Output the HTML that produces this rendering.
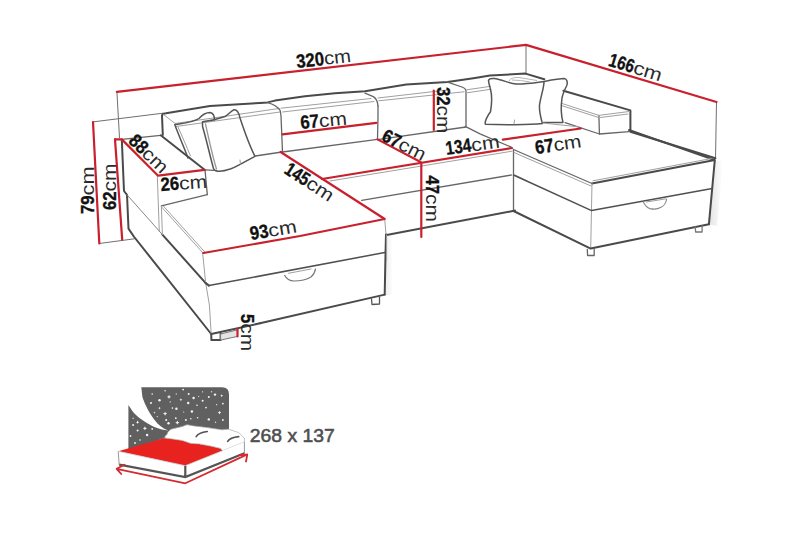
<!DOCTYPE html>
<html><head><meta charset="utf-8">
<style>
html,body{margin:0;padding:0;background:#fff;width:800px;height:533px;overflow:hidden}
svg{display:block}
text{font-family:"Liberation Sans",sans-serif}
.d{fill:none;stroke:#4a4a4a;stroke-width:2;stroke-linejoin:round;stroke-linecap:round}
.m{fill:none;stroke:#666;stroke-width:1.3;stroke-linejoin:round;stroke-linecap:round}
.l{fill:none;stroke:#a0a0a0;stroke-width:1;stroke-linecap:round;stroke-linejoin:round}
.r{fill:none;stroke:#c8202c;stroke-width:2.2;stroke-linecap:round;stroke-linejoin:round}
.g{fill:none;stroke:#707070;stroke-width:1;}
.t{font-size:19px;fill:#111}
.t .b{font-weight:bold;stroke:#111;stroke-width:0.35}
.t .c{fill:#2a2a2a;font-size:18.5px}
</style></head>
<body>
<svg width="800" height="533" viewBox="0 0 800 533">
<defs>
<linearGradient id="sh" x1="0" y1="0" x2="1" y2="0"><stop offset="0" stop-color="#000" stop-opacity="0.16"/><stop offset="1" stop-color="#000" stop-opacity="0"/></linearGradient>
</defs>
<rect x="386" y="234" width="7" height="61" fill="url(#sh)" opacity="0.4"/>
<path d="M714.8,160.5 L723,161 L717,226 L708.9,224.3 Z" fill="url(#sh)" opacity="0.7"/>
<!-- extension lines -->
<g class="g">
<path d="M116.9,91.8 L119.5,138"/>
<path d="M92,122 L163,113.2"/>
<path d="M99.3,243.5 L134.4,238.8"/>
<path d="M526,44.9 L526,73.6"/>
<path d="M716.5,102 L715.5,158.5"/>
</g>

<!-- backrest top contour -->
<path class="d" d="M162.8,135 L162,115.5 Q162.5,113.5 166,113.3 L210,106 L260,103 L267.5,102.4 L275,100.6 L305,96.2 L335,93.3 L365,91.3 L406.3,84.5 L447.5,81.9 L475,78 L490,75.6 L525.5,73.6 L544.3,79.3"/>
<!-- left backrest inner -->
<path class="l" d="M163.5,114.5 L175,123.5 L279,108.5"/>
<path class="l" d="M176,126.5 L280,112"/>
<!-- center-left cushion -->
<path class="m" d="M267.5,102.6 Q276.5,105 280.2,110.5 L281,116 L282.5,152"/>
<path class="l" d="M281,108.2 L371,98.5 M282.5,112 L374,101.5"/>
<path class="m" d="M378,106 L378,116 L377.5,139.4"/>
<path class="m" d="M282.5,152 L377.5,139.4"/>
<!-- center-right cushion -->
<path class="m" d="M365,93.2 L373.3,96.6 Q377.4,99 378,106"/>
<path class="l" d="M378,98 L449,89.8 M378.8,100.8 L464,91.8"/>
<path class="m" d="M447.5,82.2 L462,87 Q466,88.5 466,91 L466,127 L377.5,139.6"/>
<path class="l" d="M466.8,89.8 L490,86.4 M467,92.8 L490,89.4"/>

<!-- pillows left -->
<path class="m" fill="#fff" d="M188,158 C184,147 179,136 174.8,124.8 C185,123 195,121.5 199,118.5 C203,114 207,112.5 210,112.5 C213,113 214.5,116 214.5,120 L218,160 Z" style="stroke:none"/>
<path class="d" style="stroke-width:1.5;stroke:#555" d="M188,158 C184,147 179,136 174.8,124.8 C185,123 195,121.5 199,118.5 C203,114 207,112.5 210,112.5 C213,113 214.5,116 214.5,120"/>
<path class="l" d="M190.5,156 C186.5,146 182,136 178,127"/>
<path class="d" style="stroke-width:1.5;stroke:#555" fill="#fff" d="M202.5,121.8 C210,121 218,119 225,116.5 C229,114 231,111 234,109.8 C237,109.5 239,113 240,118 C244,130 249,145 255,156.3 C246,161 238,166 231,168.8 C226,170.5 221,171.5 218,171.2 C215.5,171 214,170 213.5,168.5 C211,160 207,142 202.5,126.3 Z"/>
<path class="l" style="stroke:#999;stroke-width:1.3" d="M205.5,124 C209,140 213,158 216.5,169"/>
<path class="l" d="M240,160 L240.5,164"/>
<path class="m" d="M255.3,156 L282,152"/>
<path class="m" d="M205,169.8 L214,170.4"/>

<!-- left arm / left chaise -->
<path class="d" d="M121.8,139.4 L124,191 L127,194.8 L128.5,228.6 L133.8,236.5 L211.2,334 L260,323.3"/>
<path class="m" d="M121.8,139.4 L160.7,135.3"/>
<path class="d" d="M160.7,135.3 L204.6,169.8"/>
<path class="m" d="M205,169.8 L207.3,194.6"/>
<path class="l" d="M157.3,176 L159.3,231.5"/>
<path class="l" style="stroke:#888" d="M127,194.8 L162.4,234.6"/><path class="d" d="M162.4,234.6 L205.7,283.1"/>
<path class="m" d="M161.4,205.8 L207.3,194.6"/>
<path class="l" d="M161.4,206.8 L202.6,252.5"/>
<path class="l" d="M163.6,206.3 L204.6,251.8"/>
<path class="l" d="M161.4,206.8 L162.4,234.6"/>
<path class="l" d="M202.6,252.5 L205.7,283.1 L209.4,305 L211.2,334"/>
<path class="d" d="M205.7,283.1 L209,285.6"/><path class="m" style="stroke:#505050;stroke-width:1.5" d="M209,285.6 L384.7,252.5"/>
<path class="d" d="M260,323.3 L384.7,294.6"/>
<path class="l" d="M384.7,219 L386,234.5"/><path class="d" d="M386,234.5 L385.6,250 L384.7,294.6"/>
<path class="d" fill="#fff" d="M211.2,334 L211.4,340.1 L220.6,340.1 L220.6,333"/>
<path fill="#e4e4e4" stroke="#777" stroke-width="1" d="M220.6,334 L237.5,329.8 L237.5,336.4 L220.6,340.1 Z"/>
<path class="m" style="stroke:#555" d="M371.5,299 L372,304.5 L379.5,304 L379.5,297"/>
<path fill="none" stroke="#777" stroke-width="1.2" d="M284.4,275 C286,278 289,281 294,281 C300,281 306,280 311,277 C313.5,275 315,272 315.6,268.7"/><path class="l" d="M288.5,273.3 L311,269"/>

<!-- center seat -->
<path class="m" d="M361.7,200.4 L511.3,175"/><path class="l" d="M330,181 L512,151.2"/>
<path class="d" d="M386.6,235 L515,210.6"/>
<path class="l" d="M386.6,235 L386.6,260"/>
<path class="m" d="M465.2,126.3 L480,133.8 L511.3,147.2"/>
<path class="l" d="M515,175 L527,181"/>

<!-- right arm -->
<path class="d" d="M563.4,90.7 L630.4,110.4 L630.4,131.7 L715.4,158.2"/>
<path class="m" d="M598.9,115.4 L599.4,134 L629.2,131.7"/>
<path class="l" d="M598.9,115.4 L629.2,111.5 M600.5,117.5 L628,114"/>
<path class="l" d="M562.3,103.6 L598.9,115.4 M562.3,105.8 L598.3,117.4"/>
<path class="m" d="M565.1,122.7 L599.4,134"/>

<!-- right pillows -->
<path class="d" style="stroke-width:1.5;stroke:#555" fill="#fff" d="M544.3,81.4 C552,80 560,78.6 564.3,78.6 C567,79 568,82 566.8,85.5 C565,89 563,93 562,98 C561,105 561,115 563,122.4 L543.6,122.4"/>
<path class="d" style="stroke-width:1.5;stroke:#555" fill="#fff" d="M488.5,80.5 C489,78.8 491,78.4 494,78.6 C502,79.5 509,83.5 516,84 C526,84.2 536,82.5 544,81.4 C544,88 541,95 539.5,105 C539,112 541,118 542.4,123.6 C530,125 500,125 485.5,124.3 C484,122 488,115 490.5,111.8 C492,103 492,95 490.5,89.3 C489.5,85 488.5,82.5 488.5,80.5 Z"/>
<path class="l" d="M514.5,120 L514,124"/><path fill="none" stroke="#b5b5b5" stroke-width="1" d="M509,81 Q511,77 519,77.5 Q528,79 537,80.5 M512,80 Q520,80 530,82"/>
<path class="l" d="M543,123 L578,126.8"/>

<!-- right chaise -->
<path class="m" d="M513.5,149.5 L513.5,211"/>
<path class="m" d="M513.5,149.5 L592,183.5"/>
<path class="l" d="M514,152.5 L591,186"/>
<path class="d" d="M592,183.5 L714.8,160.1 L708.9,224.3 M629,130 L714.8,160.1"/>
<path class="l" d="M593,180.8 L711.5,158.5"/>
<path class="l" d="M592,183.5 L590.7,248.6"/>
<path class="m" style="stroke:#505050;stroke-width:1.5" d="M513.5,175 L591.6,210.6 L712.2,188.5"/>
<path class="d" d="M513.5,211 L590.7,248.6 L708.9,224.3"/>
<path class="m" fill="#fff" d="M587.3,249.4 L587.6,255.5 L594.2,255.5 L594.2,249"/>
<path class="m" style="stroke:#777" fill="#fff" d="M695.3,227 L695.6,232 L702.1,232 L702.1,225.8"/>
<path fill="none" stroke="#888" stroke-width="1.1" d="M643,201.5 C644.5,204.5 646,207.4 650,208.6 C653,209.3 658,209 661,207.3 C664,206 666,203 666.7,199"/><path class="l" d="M646.5,202 L666,198.8"/>

<!-- red dimension lines -->
<g class="r">
<path d="M116.9,91.8 L526,44.9 L716.5,102"/>
<path d="M93,122 L99.3,243.5"/>
<path d="M115,139.4 L121.8,139.4 L158.1,175.7 L204.6,169.8"/>
<path d="M115,139.4 L122.2,239.7"/>
<path d="M280.6,152 L384.7,219 L300,236 L203.4,253"/>
<path d="M282.5,134.4 L376.3,122.8"/>
<path d="M322,179 L512,148"/>
<path d="M377.5,139.4 L420.6,162"/>
<path d="M421.3,162.8 L421.3,237"/>
<path d="M502.8,139.7 L580.7,128.5"/>
<path d="M433.8,90.6 L433.8,130"/>
<path d="M237.5,329 L237.5,336.4"/>
</g>

<!-- labels -->
<g class="t">
<text transform="translate(297,68) rotate(-6.5)"><tspan class="b" textLength="27.9" lengthAdjust="spacingAndGlyphs">320</tspan><tspan class="c" textLength="27" lengthAdjust="spacingAndGlyphs">cm</tspan></text>
<text transform="translate(607.5,65.5) rotate(17)"><tspan class="b" textLength="25.8" lengthAdjust="spacingAndGlyphs">166</tspan><tspan class="c" textLength="29" lengthAdjust="spacingAndGlyphs">cm</tspan></text>
<text transform="translate(94.2,214) rotate(-90)"><tspan class="b" textLength="18.6" lengthAdjust="spacingAndGlyphs">79</tspan><tspan class="c" textLength="29" lengthAdjust="spacingAndGlyphs">cm</tspan></text>
<text transform="translate(116,210) rotate(-90)"><tspan class="b" textLength="18.6" lengthAdjust="spacingAndGlyphs">62</tspan><tspan class="c" textLength="28" lengthAdjust="spacingAndGlyphs">cm</tspan></text>
<text transform="translate(127.5,142) rotate(44)"><tspan class="b" textLength="18.6" lengthAdjust="spacingAndGlyphs">88</tspan><tspan class="c" textLength="28" lengthAdjust="spacingAndGlyphs">cm</tspan></text>
<text transform="translate(161,191) rotate(-4)"><tspan class="b" textLength="18.6" lengthAdjust="spacingAndGlyphs">26</tspan><tspan class="c" textLength="28" lengthAdjust="spacingAndGlyphs">cm</tspan></text>
<text transform="translate(283,172.5) rotate(33)"><tspan class="b" textLength="25.8" lengthAdjust="spacingAndGlyphs">145</tspan><tspan class="c" textLength="29" lengthAdjust="spacingAndGlyphs">cm</tspan></text>
<text transform="translate(251,240) rotate(-9.5)"><tspan class="b" textLength="18.6" lengthAdjust="spacingAndGlyphs">93</tspan><tspan class="c" textLength="28.5" lengthAdjust="spacingAndGlyphs">cm</tspan></text>
<text transform="translate(301,129) rotate(-5.5)"><tspan class="b" textLength="18.6" lengthAdjust="spacingAndGlyphs">67</tspan><tspan class="c" textLength="28" lengthAdjust="spacingAndGlyphs">cm</tspan></text>
<text transform="translate(380.5,140) rotate(27)"><tspan class="b" textLength="18.6" lengthAdjust="spacingAndGlyphs">67</tspan><tspan class="c" textLength="28" lengthAdjust="spacingAndGlyphs">cm</tspan></text>
<text transform="translate(446.5,155) rotate(-8)"><tspan class="b" textLength="25.8" lengthAdjust="spacingAndGlyphs">134</tspan><tspan class="c" textLength="28.5" lengthAdjust="spacingAndGlyphs">cm</tspan></text>
<text transform="translate(536,154) rotate(-8.5)"><tspan class="b" textLength="18.6" lengthAdjust="spacingAndGlyphs">67</tspan><tspan class="c" textLength="28" lengthAdjust="spacingAndGlyphs">cm</tspan></text>
<text transform="translate(437,87) rotate(90)"><tspan class="b" textLength="18.6" lengthAdjust="spacingAndGlyphs">32</tspan><tspan class="c" textLength="28" lengthAdjust="spacingAndGlyphs">cm</tspan></text>
<text transform="translate(426,175.5) rotate(90)"><tspan class="b" textLength="18.6" lengthAdjust="spacingAndGlyphs">47</tspan><tspan class="c" textLength="28" lengthAdjust="spacingAndGlyphs">cm</tspan></text>
<text transform="translate(240.5,314) rotate(90)"><tspan class="b" textLength="9.3" lengthAdjust="spacingAndGlyphs">5</tspan><tspan class="c" textLength="28" lengthAdjust="spacingAndGlyphs">cm</tspan></text>
</g>

<!-- bed icon -->
<g>
<path fill="#606060" d="M141.3,387.3 L222,387.3 Q229,387.3 229,394.3 L229,431 L165,436 L168,430.5 C162,428 158,424.5 155,420.5 C150,414 145,405 142.4,396.9 Z"/>
<path fill="#606060" d="M128.4,405 C131,409 133,412 134.7,413.7 C140,419 148,424 155,427.2 C160,429 164,430 168,430.5 L168,437 L128.4,450 Z"/>
<g fill="#f4f4f4">
<circle cx="152.2" cy="394" r="0.8"/>
<circle cx="165.1" cy="390.7" r="0.8"/>
<circle cx="159.5" cy="400.2" r="1.2"/>
<path d="M169,394.73999999999995 L169.648,396.25199999999995 L171.16,396.9 L169.648,397.548 L169,399.06 L168.352,397.548 L166.84,396.9 L168.352,396.25199999999995 Z"/>
<circle cx="170.2" cy="401.9" r="0.6"/>
<circle cx="151" cy="403" r="1.0"/>
<path d="M180.9,398.26 L181.332,399.268 L182.34,399.7 L181.332,400.132 L180.9,401.14 L180.46800000000002,400.132 L179.46,399.7 L180.46800000000002,399.268 Z"/>
<circle cx="188.7" cy="394" r="1.0"/>
<circle cx="188.2" cy="403" r="1.2"/>
<path d="M159.5,406.66 L159.932,407.668 L160.94,408.1 L159.932,408.53200000000004 L159.5,409.54 L159.068,408.53200000000004 L158.06,408.1 L159.068,407.668 Z"/>
<circle cx="172.4" cy="408.1" r="0.8"/>
<circle cx="176.4" cy="408.7" r="1.2"/>
<circle cx="183.7" cy="412" r="0.6"/>
<path d="M154.4,411.52000000000004 L154.72400000000002,412.276 L155.48000000000002,412.6 L154.72400000000002,412.92400000000004 L154.4,413.68 L154.076,412.92400000000004 L153.32,412.6 L154.076,412.276 Z"/>
<path d="M165.1,411.53999999999996 L165.748,413.05199999999996 L167.26,413.7 L165.748,414.348 L165.1,415.86 L164.452,414.348 L162.94,413.7 L164.452,413.05199999999996 Z"/>
<circle cx="157.2" cy="416.6" r="0.6"/>
<circle cx="175.8" cy="418.2" r="0.9"/>
<circle cx="185.9" cy="420" r="1.0"/>
<circle cx="166.2" cy="420" r="1.0"/>
<circle cx="168.5" cy="423.3" r="1.2"/>
<circle cx="177.5" cy="422.7" r="0.8"/>
<path d="M133.1,417.12 L133.424,417.876 L134.18,418.2 L133.424,418.524 L133.1,419.28 L132.77599999999998,418.524 L132.01999999999998,418.2 L132.77599999999998,417.876 Z"/>
<path d="M137.6,420.4 L138.14,421.65999999999997 L139.4,422.2 L138.14,422.74 L137.6,424.0 L137.06,422.74 L135.79999999999998,422.2 L137.06,421.65999999999997 Z"/>
<circle cx="133.1" cy="425" r="1.0"/>
<circle cx="152.2" cy="428.9" r="0.9"/>
<circle cx="137.6" cy="430.6" r="1.0"/>
<circle cx="147.1" cy="435" r="1.2"/>
<path d="M144.9,426.23999999999995 L145.548,427.75199999999995 L147.06,428.4 L145.548,429.048 L144.9,430.56 L144.252,429.048 L142.74,428.4 L144.252,427.75199999999995 Z"/>
<circle cx="183.1" cy="389.6" r="0.9"/>
<circle cx="198.7" cy="396.3" r="0.6"/>
<circle cx="193.6" cy="398" r="1.2"/>
<circle cx="197" cy="405.3" r="0.8"/>
<circle cx="206" cy="407.6" r="0.9"/>
<circle cx="191.9" cy="411.5" r="1.2"/>
<circle cx="197.6" cy="417.7" r="0.8"/>
<circle cx="208.8" cy="419.4" r="1.2"/>
<path d="M215.6,421.12 L215.924,421.876 L216.68,422.2 L215.924,422.524 L215.6,423.28 L215.27599999999998,422.524 L214.51999999999998,422.2 L215.27599999999998,421.876 Z"/>
<path d="M219.5,410.8 L220.04,412.06 L221.3,412.6 L220.04,413.14000000000004 L219.5,414.40000000000003 L218.96,413.14000000000004 L217.7,412.6 L218.96,412.06 Z"/>
<circle cx="216.7" cy="404.7" r="0.6"/>
<path d="M221.7,394.26 L222.13199999999998,395.268 L223.14,395.7 L222.13199999999998,396.132 L221.7,397.14 L221.268,396.132 L220.26,395.7 L221.268,395.268 Z"/>
<circle cx="208.8" cy="396.9" r="1.0"/>
<path d="M211.6,390.72 L211.924,391.476 L212.68,391.8 L211.924,392.124 L211.6,392.88 L211.27599999999998,392.124 L210.51999999999998,391.8 L211.27599999999998,391.476 Z"/>
<circle cx="215" cy="394.6" r="1.2"/>
<circle cx="202.6" cy="400.8" r="1.0"/>
<circle cx="222.9" cy="420" r="0.9"/>
<circle cx="222.9" cy="403.6" r="0.9"/>
<circle cx="202.6" cy="391.8" r="0.6"/>
<path d="M176.2,392.92 L176.524,393.676 L177.28,394 L176.524,394.324 L176.2,395.08 L175.87599999999998,394.324 L175.11999999999998,394 L175.87599999999998,393.676 Z"/>
<path d="M177.3,420.53999999999996 L177.948,422.05199999999996 L179.46,422.7 L177.948,423.348 L177.3,424.86 L176.65200000000002,423.348 L175.14000000000001,422.7 L176.65200000000002,422.05199999999996 Z"/>
<circle cx="190.8" cy="418.8" r="0.8"/>
<circle cx="130.5" cy="436" r="0.9"/>
<circle cx="140" cy="440" r="0.8"/>
<circle cx="135" cy="443" r="0.9"/>
</g>
<path fill="#e8221f" d="M118.2,451.3 L164.7,437.9 L171.2,438.8 L182.5,440.5 L190.4,443.3 L199.4,443.9 L210.6,446.1 L220.7,448.4 L222.5,450.8 L185.3,465.7 Z"/>
<path fill="#fff" stroke="#aaa" stroke-width="0.7" d="M164.7,437.9 C165,436 166,435 167,434.5 C168,431 170,430 171.2,429.2 L182.5,426.4 L187,424.7 L193.7,425.9 L207.2,427.6 L221.9,429.8 L228.6,429.2 L238.7,432.6 L244.4,438.2 L244.4,442 L222.5,450.8 L220.7,448.4 L210.6,446.1 L199.4,443.9 L190.4,443.3 L182.5,440.5 L171.2,438.8 Z"/>
<path fill="none" stroke="#555" stroke-width="1.7" stroke-linecap="round" d="M196.2,436.6 Q198.5,432.5 207.2,431.5 M227.7,441.4 Q230,437.5 238.7,436.6"/>
<path fill="#fff" stroke="none" d="M118.2,451.3 L185.3,465.7 L244.4,442 L244.4,453.3 L185.3,477.1 L119.2,464.7 Z"/>
<path fill="none" stroke="#c8c8c8" stroke-width="0.8" d="M118.2,451.3 L185.3,465.7 L222.5,450.8"/>
<path fill="none" stroke="#999" stroke-width="1" d="M118.2,451.3 L119.2,464.7 M244.4,442 L244.4,453.3"/>
<path fill="none" stroke="#555" stroke-width="2.2" d="M119.2,464.7 L185.3,477.1 L244.4,453.3 M185.3,465.7 L185.3,477.1"/>
<path fill="none" stroke="#d42a30" stroke-width="1.8" stroke-linejoin="round" stroke-linecap="round" d="M116.6,468.8 L185.3,483.3 L247.3,454.4 M124.4,464.7 L116.6,468.8 L121.3,474 M239.5,455 L247.3,454.4 L246,461.5"/>
</g>
<text x="249.8" y="442" textLength="85" lengthAdjust="spacingAndGlyphs" style="font-size:18.3px;fill:#505050;stroke:#505050;stroke-width:0.55">268 x 137</text>
</svg>
</body></html>
